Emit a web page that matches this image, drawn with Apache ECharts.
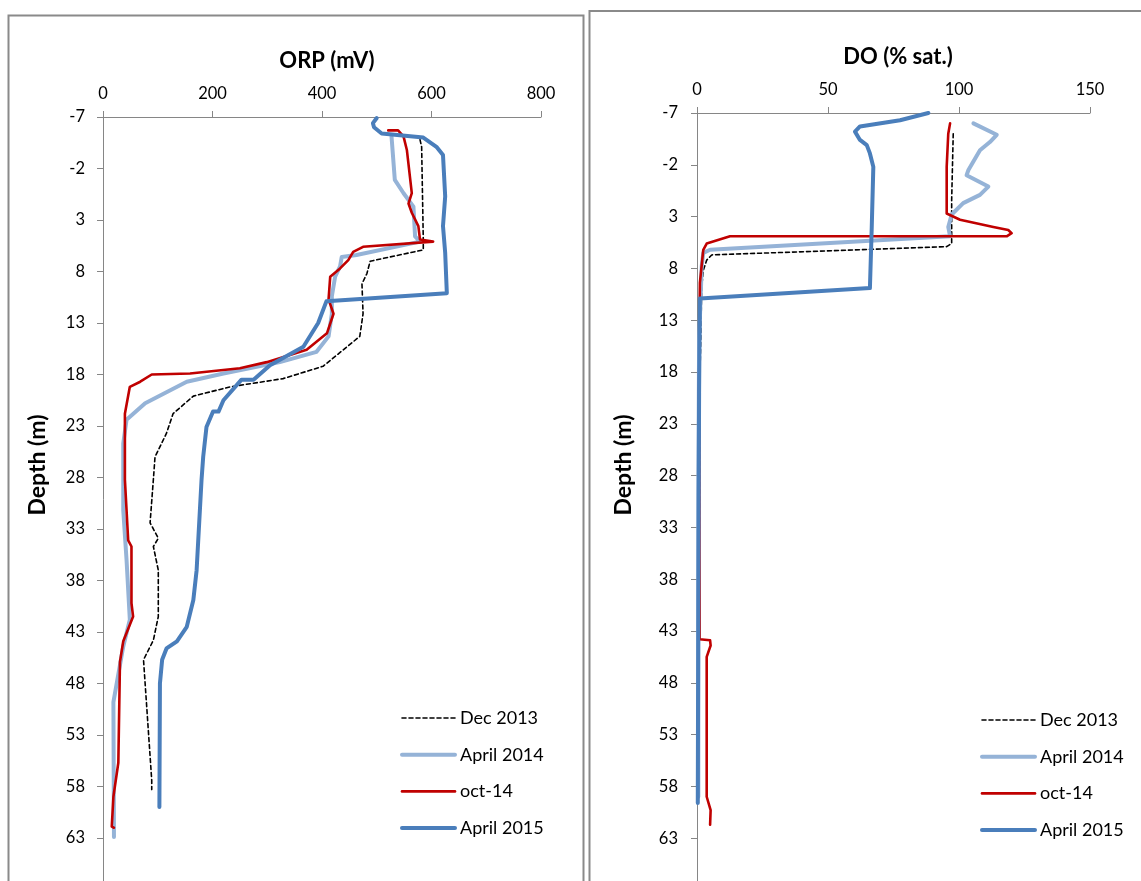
<!DOCTYPE html>
<html>
<head>
<meta charset="utf-8">
<script src="https://cdn.jsdelivr.net/npm/echarts@6/dist/echarts.min.js"></script>
<style>
html,body{margin:0;padding:0;background:#fff;overflow:hidden;}
#chart{width:1141px;height:881px;}
</style>
</head>
<body>
<div id="chart"></div>
<script>
// ---------- Data (depth in m) ----------
const seriesNames = ['Dec 2013', 'April 2014', 'oct-14', 'April 2015'];
const depthTicks = [-7, -2, 3, 8, 13, 18, 23, 28, 33, 38, 43, 48, 53, 58, 63];

// ORP (mV)
const orpDec2013Depth = [-4.8,-4.1,4.9,5.9,7.0,8.2,9.2,12.1,14.3,17.2,18.4,19.2,20.1,21.8,23.7,26.0,28.2,32.4,33.9,34.7,37.0,41.5,43.8,45.7,57.4,58.3];
const orpDec2013 =      [579,582,585,585,488,482,473,475,469,402,329,232,165,128,116,95,92,86,101,92,101,101,92,74,89,89];

const orpApr2014Depth = [-5.1,-0.9,0.4,1.7,4.6,5.1,6.4,6.6,7.5,8.5,10.4,12.1,14.3,15.8,16.8,17.9,18.7,20.8,22.4,24.7,28.2,31.2,36.0,41.8,44.4,49.8,62.9];
const orpApr2014 =      [527,533,549,567,570,579,463,436,433,424,418,418,412,390,323,220,153,77,43,37,37,37,43,49,37,19,20];

const orpOct2014Depth = [-5.7,-5.7,-5.1,-3.8,0.4,1.4,2.3,3.6,4.9,5.1,5.6,6.1,6.9,7.7,8.5,10.7,12.1,14.0,15.6,16.8,17.4,17.9,18.0,18.7,19.2,21.8,28.2,34.1,34.7,40.2,41.5,43.9,45.9,55.7,59.0,61.9,62.0];
const orpOct2014 =      [521,539,549,555,564,558,564,576,579,603,475,457,448,433,415,412,421,409,372,299,250,159,89,68,49,40,40,46,52,52,55,37,31,28,19,16,20];

const orpApr2015Depth = [-6.9,-6.4,-6.0,-5.4,-5.0,-4.1,-3.3,0.7,3.6,6.2,10.1,10.9,13.0,15.3,17.1,18.5,18.5,20.5,21.6,21.6,23.1,26.0,28.2,37.0,39.9,42.5,43.9,44.6,45.7,48.0,60.0];
const orpApr2015 =      [500,493,495,509,585,609,621,625,621,625,628,408,393,366,305,275,253,220,211,201,189,183,180,171,165,153,135,116,108,104,103];

// DO (% sat.)
const doDec2013Depth = [-5.0,1.4,5.6,5.9,6.7,7.2,8.2,9.8,20,40,58.0];
const doDec2013 =      [97.8,97.2,97.2,95.3,5.6,3.7,2.4,1.8,1.0,0.8,0.7];

const doApr2014Depth = [-6.0,-4.9,-4.2,-3.4,-1.5,-1.0,0.1,0.9,1.7,2.8,4.0,4.9,6.2,6.5,7.8,15,30,59];
const doApr2014 =      [105.5,114.4,111.8,108,103.6,102.9,111.2,108,101.6,97.2,95.9,96.6,5,2.4,1.8,0.8,0.5,0.5];

const doOct2014Depth = [-6.0,-5.0,-1.8,2.7,3.3,4.0,4.3,4.6,4.9,4.9,5.6,6.2,9.4,20,43.8,43.9,44.4,45.5,59.0,60.3,61.7];
const doOct2014 =      [96.6,95.9,95.3,95.3,100.4,113.1,118.8,120.1,118.2,12.6,3.7,2.4,1.1,0.8,1.0,5.0,5.2,3.7,3.7,5.2,5.0];

const doApr2015Depth = [-7.0,-6.3,-6.2,-5.7,-5.2,-4.4,-3.9,-3.1,-1.8,4.0,9.9,10.9,20,40,59.6];
const doApr2015 =      [88.3,77.5,76.8,62.2,60.3,62.2,64.8,66.0,67.3,66.7,66.0,1.1,0.8,0.5,0.3];

// ---------- Build ----------
const FONT = 'Lato, "Open Sans", sans-serif';
function pairs(vals, depths){ return vals.map((v,i)=>[v, depths[i]]); }

const styles = {
  'Dec 2013':   {color:'#000000', width:1.6, type:[4,3]},
  'April 2014': {color:'#95B3D7', width:4, type:'solid'},
  'oct-14':     {color:'#C00000', width:2.6, type:'solid'},
  'April 2015': {color:'#4A7EBB', width:4, type:'solid'}
};

function mkSeries(name, data, idx){
  const s = styles[name];
  return {
    name, type:'line', xAxisIndex:idx, yAxisIndex:idx, data,
    symbol:'none', showSymbol:false, smooth:false, animation:false,
    color:s.color,
    lineStyle:{color:s.color, width:s.width, type:s.type, cap:'round', join:'round'},
    itemStyle:{color:s.color}
  };
}

const orpSets = [pairs(orpDec2013,orpDec2013Depth), pairs(orpApr2014,orpApr2014Depth), pairs(orpOct2014,orpOct2014Depth), pairs(orpApr2015,orpApr2015Depth)];
const doSets  = [pairs(doDec2013,doDec2013Depth), pairs(doApr2014,doApr2014Depth), pairs(doOct2014,doOct2014Depth), pairs(doApr2015,doApr2015Depth)];

const series = [];
seriesNames.forEach((n,i)=>series.push(mkSeries(n, orpSets[i], 0)));
seriesNames.forEach((n,i)=>series.push(mkSeries(n, doSets[i], 1)));

const axisGrey = '#868686';
function xAx(idx, max, interval){
  return {
    gridIndex:idx, type:'value', position:'top', min:0, max, interval,
    axisLine:{show:true, onZero:false, lineStyle:{color:axisGrey, width:1}},
    axisTick:{show:true, inside:false, length:6, lineStyle:{color:axisGrey}},
    splitLine:{show:false},
    axisLabel:{fontFamily:FONT, fontSize:16.5, color:'#000', margin:15}
  };
}
function yAx(idx, margin){
  return {
    gridIndex:idx, type:'value', inverse:true, min:-7, max:68, interval:5,
    axisLine:{show:true, onZero:false, lineStyle:{color:axisGrey, width:1}},
    axisTick:{show:true, inside:false, length:6, lineStyle:{color:axisGrey}},
    splitLine:{show:false},
    axisLabel:{fontFamily:FONT, fontSize:16.5, color:'#000', margin,
      formatter: v => depthTicks.indexOf(v) >= 0 ? String(v) : ''}
  };
}

function legendCfg(left, top){
  return {
    data:seriesNames.map(n => ({name:n, lineStyle:{width:styles[n].width, type:styles[n].type, color:styles[n].color}})),
    orient:'vertical', left, top, padding:0,
    itemWidth:53, itemHeight:14, itemGap:16.7,
    itemStyle:{opacity:0},
    textStyle:{fontFamily:FONT, fontSize:18, color:'#000', lineHeight:20},
    selectedMode:false
  };
}

const option = {
  backgroundColor:'#fff',
  animation:false,
  title:[
    {text:'ORP (mV)', left:322, top:45, textAlign:'center',
     textStyle:{fontFamily:FONT, fontSize:22, fontWeight:'bold', color:'#000'}},
    {text:'DO (% sat.)', left:893, top:41, textAlign:'center',
     textStyle:{fontFamily:FONT, fontSize:22, fontWeight:'bold', color:'#000'}}
  ],
  grid:[
    {left:103, top:117, width:438, height:772.5, containLabel:false, outerBoundsMode:'none'},
    {left:697, top:113, width:393, height:777, containLabel:false, outerBoundsMode:'none'}
  ],
  xAxis:[xAx(0,800,200), xAx(1,150,50)],
  yAxis:[yAx(0,18), yAx(1,19)],
  legend:[legendCfg(400,708), legendCfg(980,710)],
  series,
  graphic:[
    {type:'rect', shape:{x:8.5, y:15.5, width:575, height:900}, style:{fill:'none', stroke:'#8a8a8a', lineWidth:2}, silent:true, z:-1},
    {type:'rect', shape:{x:589.5, y:11, width:600, height:900}, style:{fill:'none', stroke:'#8a8a8a', lineWidth:2}, silent:true, z:-1},
    {type:'text', x:38, y:465, rotation:Math.PI/2,
     style:{text:'Depth (m)', fontFamily:FONT, fontSize:23, fontWeight:'bold', fill:'#000', textAlign:'center', textVerticalAlign:'middle'}},
    {type:'text', x:624, y:465, rotation:Math.PI/2,
     style:{text:'Depth (m)', fontFamily:FONT, fontSize:23, fontWeight:'bold', fill:'#000', textAlign:'center', textVerticalAlign:'middle'}}
  ]
};

const chart = echarts.init(document.getElementById('chart'), null, {renderer:'canvas'});
chart.setOption(option);
</script>
</body>
</html>
